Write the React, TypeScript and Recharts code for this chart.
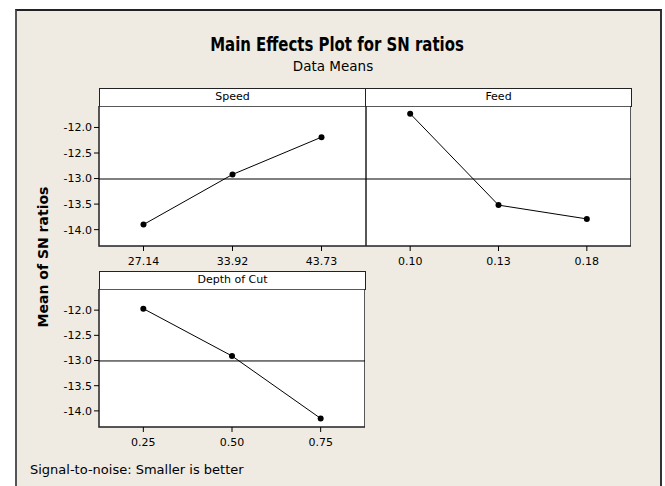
import React from 'react';
import {
  LineChart,
  Line,
  XAxis,
  YAxis,
  ReferenceArea,
  ReferenceLine
} from 'recharts';

// levels and mean SN ratios
const speedLevels = ['27.14', '33.92', '43.73'];
const speedMeans = [-13.9, -12.92, -12.19];

const feedLevels = ['0.10', '0.13', '0.18'];
const feedMeans = [-11.73, -13.52, -13.79];

const depthLevels = ['0.25', '0.50', '0.75'];
const depthMeans = [-11.97, -12.91, -14.15];

const yTicks = [-14.0, -13.5, -13.0, -12.5, -12.0];
const yDomain = [-14.32, -11.58];

const allMeans = [...speedMeans, ...feedMeans, ...depthMeans];
const grandMean = allMeans.reduce((a, b) => a + b, 0) / allMeans.length;

const CONDENSED = '"DejaVu Sans Condensed", "DejaVu Sans", sans-serif';
const FONT = '"DejaVu Sans", sans-serif';
const BG = '#EFEBE2';

const toRows = (levels: string[], means: number[]) =>
  levels.map((level, i) => ({ i, level, sn: means[i] }));

interface PanelProps {
  levels: string[];
  means: number[];
  left: number;
  top: number;
  width: number;
  height: number;
  showY: boolean;
}

const Panel: React.FC<PanelProps> = ({ levels, means, left, top, width, height, showY }) => {
  const data = toRows(levels, means);
  const tickStyle = { fill: '#000', fontSize: 11, fontFamily: FONT };
  return (
    <div style={{ position: 'absolute', left, top }}>
      <LineChart width={width} height={height} data={data} margin={{ top: 0, right: 0, bottom: 0, left: 0 }}>
        <XAxis
          type="number"
          dataKey="i"
          domain={[-0.5, 2.5]}
          ticks={[0, 1, 2]}
          tickFormatter={(v: number) => levels[v]}
          height={30}
          tick={tickStyle}
          tickSize={5}
          tickMargin={6}
          axisLine={false}
          tickLine={{ stroke: '#000' }}
          allowDataOverflow
        />
        <YAxis
          hide={!showY}
          domain={yDomain}
          ticks={yTicks}
          tickFormatter={(v: number) => v.toFixed(1)}
          width={64}
          tick={tickStyle}
          tickSize={5}
          tickMargin={2}
          axisLine={false}
          tickLine={{ stroke: '#000' }}
          allowDataOverflow
        />
        <ReferenceArea
          x1={-0.5}
          x2={2.5}
          y1={yDomain[0]}
          y2={yDomain[1]}
          fill="#fff"
          fillOpacity={1}
          stroke="#222"
          strokeWidth={1.5}
          ifOverflow="visible"
        />
        <ReferenceLine y={grandMean} stroke="#000" strokeWidth={1} />
        <Line
          type="linear"
          dataKey="sn"
          stroke="#000"
          strokeWidth={1}
          dot={{ r: 3, fill: '#000', stroke: '#000', strokeWidth: 0 }}
          activeDot={false}
          isAnimationActive={false}
        />
      </LineChart>
    </div>
  );
};

const Header: React.FC<{ label: string; left: number; top: number; width: number }> = ({ label, left, top, width }) => (
  <div
    style={{
      position: 'absolute',
      left,
      top,
      width,
      height: 19,
      boxSizing: 'border-box',
      border: '1.5px solid #222',
      background: '#fff',
      fontFamily: FONT,
      fontSize: 11,
      lineHeight: '16px',
      textAlign: 'center',
      color: '#000'
    }}
  >
    {label}
  </div>
);

export default function App() {
  return (
    <div style={{ position: 'absolute', left: 0, top: 0, width: 665, height: 486, background: '#fff', overflow: 'hidden' }}>
      <div
        style={{
          position: 'absolute',
          left: 15,
          top: 9,
          width: 647,
          height: 490,
          boxSizing: 'border-box',
          borderTop: '2px solid #222',
          borderLeft: '2px solid #555',
          borderRight: '2px solid #333',
          background: BG
        }}
      />
      <div
        style={{
          position: 'absolute',
          left: 0,
          top: 34,
          width: 674,
          textAlign: 'center',
          fontFamily: CONDENSED,
          fontWeight: 'bold',
          fontSize: 16.6,
          lineHeight: '22px',
          transform: 'scaleY(1.15)'
        }}
      >
        Main Effects Plot for SN ratios
      </div>
      <div style={{ position: 'absolute', left: 0, top: 58, width: 666, textAlign: 'center', fontFamily: FONT, fontSize: 13.5, lineHeight: '16px' }}>
        Data Means
      </div>

      <Header label="Speed" left={99} top={88} width={267} />
      <Header label="Feed" left={365} top={88} width={267} />
      <Header label="Depth of Cut" left={99} top={271} width={267} />

      <Panel levels={speedLevels} means={speedMeans} left={35} top={106} width={331} height={170} showY />
      <Panel levels={feedLevels} means={feedMeans} left={366} top={106} width={265} height={170} showY={false} />
      <Panel levels={depthLevels} means={depthMeans} left={35} top={289} width={330} height={168} showY />

      <div
        style={{
          position: 'absolute',
          left: 43,
          top: 257,
          transform: 'translate(-50%, -50%) rotate(-90deg)',
          whiteSpace: 'nowrap',
          fontFamily: FONT,
          fontWeight: 'bold',
          fontSize: 14
        }}
      >
        Mean of SN ratios
      </div>
      <div style={{ position: 'absolute', left: 30, top: 462, fontFamily: FONT, fontSize: 13, lineHeight: '16px', whiteSpace: 'nowrap' }}>
        Signal-to-noise: Smaller is better
      </div>
    </div>
  );
}
